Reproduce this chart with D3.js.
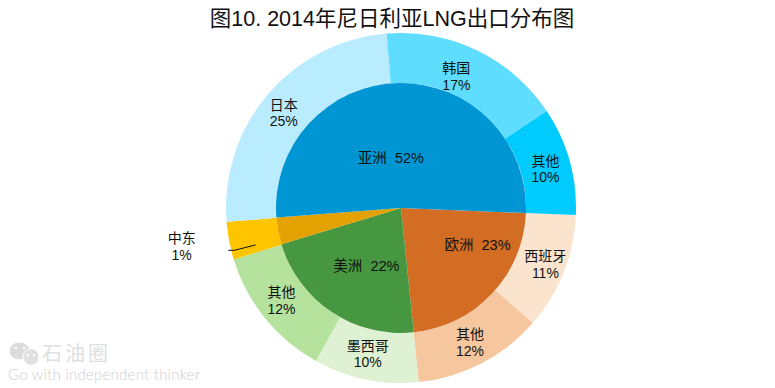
<!DOCTYPE html>
<html>
<head>
<meta charset="utf-8">
<script src="https://cdn.jsdelivr.net/npm/d3@7"></script>
<style>
  html, body { margin: 0; padding: 0; background: #fff; }
  text { font-family: "Liberation Sans", "Noto Sans CJK SC", sans-serif; }
</style>
</head>
<body>
<div id="chart"></div>
<script>
const titleText = "图10. 2014年尼日利亚LNG出口分布图";

// Inner ring: regions
const regionNames = ["欧洲", "美洲", "中东", "亚洲"];
const regionValues = [22.8, 22, 3.5, 52];
const regionLabels = ["23%", "22%", "", "52%"];
const regionColors = ["#d26d23", "#46973f", "#e3a102", "#0096d4"];

// Outer ring: countries, clockwise from the same start
const countryNames = ["西班牙", "其他", "墨西哥", "其他", "中东", "日本", "韩国", "其他"];
const countryValues = [10.8, 12, 9.7, 12.2, 3.5, 25, 17, 10];
const countryLabels = ["11%", "12%", "10%", "12%", "1%", "25%", "17%", "10%"];
const countryColors = ["#fbe4ce", "#f6c79e", "#dff1d3", "#b5e29d", "#ffc400", "#b9ecff", "#5fddff", "#00cbff"];

const width = 775;
const height = 388;
const cx = 401;
const cy = 208;
const innerR = 125;
const outerR = 175;
const startAngle = 92.3 * Math.PI / 180;

const svg = d3.select("#chart").append("svg")
    .attr("width", width)
    .attr("height", height)
    .style("display", "block");

svg.append("text")
    .attr("x", 392)
    .attr("y", 26)
    .attr("text-anchor", "middle")
    .attr("font-size", 21.5)
    .attr("fill", "#111")
    .text(titleText);

const pie = d3.pie()
    .sort(null)
    .startAngle(startAngle)
    .endAngle(startAngle + 2 * Math.PI);

const chart = svg.append("g").attr("transform", `translate(${cx}, ${cy})`);

const outerArc = d3.arc().innerRadius(innerR).outerRadius(outerR);
const innerArc = d3.arc().innerRadius(0).outerRadius(innerR);
const outerSlices = pie(countryValues);
const innerSlices = pie(regionValues);

chart.selectAll("path.outer")
    .data(outerSlices)
    .enter()
    .append("path")
    .attr("class", "outer")
    .attr("fill", (d, i) => countryColors[i])
    .attr("d", outerArc);

chart.selectAll("path.inner")
    .data(innerSlices)
    .enter()
    .append("path")
    .attr("class", "inner")
    .attr("fill", (d, i) => regionColors[i])
    .attr("d", innerArc);

// Label nudges from the arc centroid, same order as the arrays
const countryNudge = [[5, 0], [0, 0], [-3, -2], [-3, -3], [1, -2], [-3, 1], [-10, 2], [0, 0]];
const regionNudge = [[31, -1], [0, 11], [0, 0], [-9, 17]];
const labelSize = 14;

// Outer labels: name over percent, 中东 sits outside the ring
outerSlices.forEach((d, i) => {
    let [x, y] = outerArc.centroid(d);
    if (countryNames[i] === "中东") {
        x = x - 73;
        y = y + 11;
    }
    x += countryNudge[i][0];
    y += countryNudge[i][1];
    const label = chart.append("text")
        .attr("text-anchor", "middle")
        .attr("font-size", labelSize)
        .attr("fill", "#111");
    label.append("tspan").attr("x", x).attr("y", y - 2).text(countryNames[i]);
    label.append("tspan").attr("x", x).attr("y", y + 14.5).text(countryLabels[i]);
});

innerSlices.forEach((d, i) => {
    if (regionLabels[i] === "") return;
    const [x, y] = innerArc.centroid(d);
    chart.append("text")
        .attr("x", x + regionNudge[i][0])
        .attr("y", y + regionNudge[i][1])
        .attr("text-anchor", "middle")
        .attr("font-size", 14.5)
        .attr("fill", "#111")
        .style("white-space", "pre")
        .text(regionNames[i] + "  " + regionLabels[i]);
});

// Leader line for 中东
const middleEast = outerSlices[countryNames.indexOf("中东")];
const midAngle = (middleEast.startAngle + middleEast.endAngle) / 2 - 0.06;
const elbow = d3.pointRadial(midAngle, 172);
chart.append("path")
    .attr("fill", "none")
    .attr("stroke", "#111")
    .attr("stroke-width", 1)
    .attr("d", d3.line()([d3.pointRadial(midAngle, 150), elbow, [elbow[0] - 6, elbow[1]]]));

// Watermark
const mark = svg.append("g");
const bubble = (x, y, rx, ry, fill) => {
    mark.append("ellipse").attr("cx", x).attr("cy", y).attr("rx", rx).attr("ry", ry)
        .attr("fill", fill).attr("stroke", "#fff").attr("stroke-width", 1);
};
bubble(19.5, 351, 10.5, 9, "#dcdcdc");
bubble(31, 357, 8, 8.5, "#e0e0e0");
[[16, 348], [24, 348], [28, 355], [34, 355]].forEach(p => {
    mark.append("circle").attr("cx", p[0]).attr("cy", p[1]).attr("r", 1.2).attr("fill", "#fff");
});
mark.append("text")
    .attr("x", 42).attr("y", 361)
    .attr("font-size", 20)
    .attr("fill", "#e0e0e0")
    .attr("textLength", 66)
    .text("石油圈");
mark.append("text")
    .attr("x", 8).attr("y", 380)
    .style("font-family", "Lato")
    .style("font-weight", 300)
    .attr("font-size", 15)
    .attr("fill", "#cfcfcf")
    .attr("textLength", 192)
    .text("Go with independent thinker");
</script>
</body>
</html>
